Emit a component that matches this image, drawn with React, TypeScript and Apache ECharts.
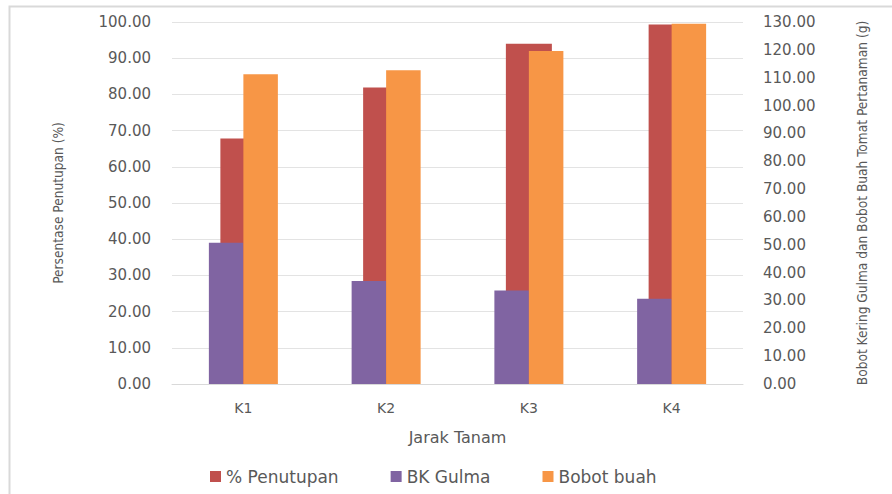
import React, { useEffect, useRef } from "react";
import * as echarts from "echarts";

const categories = ["K1", "K2", "K3", "K4"];
const penutupan = [67.8, 81.9, 94.0, 99.3];
const bkGulma = [50.7, 37.0, 33.6, 30.6];
const bobotBuah = [111.2, 112.7, 119.6, 129.4];
const leftTicks = { min: 0, max: 100, interval: 10 };
const rightTicks = { min: 0, max: 130, interval: 10 };

const tickFont = "DejaVu Sans";
const titleFont = "'DejaVu Sans Condensed', 'Liberation Sans Narrow', 'Open Sans'";

export default function App() {
  const ref = useRef<HTMLDivElement>(null);
  useEffect(() => {
    if (!ref.current) return;
    const chart = echarts.init(ref.current, null, { renderer: "svg" });
    chart.setOption({
      animation: false,
      backgroundColor: "#ffffff",
      graphic: [
        {
          type: "rect",
          shape: { x: 9.5, y: 6.5, width: 1000, height: 1000 },
          style: { fill: "none", stroke: "#d9d9d9", lineWidth: 2 },
          silent: true,
        },
      ],
      grid: { left: 172, right: 149, top: 22, bottom: 110 },
      legend: {
        bottom: 4,
        left: 205,
        itemWidth: 11,
        itemHeight: 11,
        itemGap: 52,
        icon: "rect",
        textStyle: { fontFamily: tickFont, fontSize: 17, color: "#595959" },
        data: ["% Penutupan", "BK Gulma", "Bobot buah"],
      },
      xAxis: [
        {
          type: "category",
          data: categories,
          name: "Jarak Tanam",
          nameLocation: "middle",
          nameGap: 45,
          nameTextStyle: { fontFamily: tickFont, fontSize: 16, color: "#595959" },
          axisLine: { show: true, lineStyle: { color: "#d9d9d9" } },
          axisTick: { show: false },
          axisLabel: { fontFamily: tickFont, fontSize: 14, color: "#595959", margin: 17 },
        },
        {
          type: "category",
          data: categories,
          show: false,
        },
      ],
      yAxis: [
        {
          type: "value",
          min: leftTicks.min,
          max: leftTicks.max,
          interval: leftTicks.interval,
          name: "Persentase Penutupan (%)",
          nameLocation: "middle",
          nameGap: 107,
          nameTextStyle: { fontFamily: titleFont, fontSize: 13.6, color: "#595959" },
          axisLine: { show: false },
          axisTick: { show: false },
          splitLine: { lineStyle: { color: "#e3e3e3", width: 1 } },
          axisLabel: {
            fontFamily: tickFont,
            fontSize: 15,
            color: "#595959",
            margin: 21,
            formatter: (v: number) => v.toFixed(2),
          },
        },
        {
          type: "value",
          min: rightTicks.min,
          max: rightTicks.max,
          interval: rightTicks.interval,
          name: "Bobot Kering Gulma dan Bobot Buah Tomat Pertanaman (g)",
          nameLocation: "middle",
          nameGap: 112,
          nameTextStyle: { fontFamily: titleFont, fontSize: 13.6, color: "#595959" },
          axisLine: { show: false },
          axisTick: { show: false },
          splitLine: { show: false },
          axisLabel: {
            fontFamily: tickFont,
            fontSize: 15,
            color: "#595959",
            margin: 20,
            formatter: (v: number) => v.toFixed(2),
          },
        },
      ],
      series: [
        {
          name: "% Penutupan",
          type: "bar",
          xAxisIndex: 0,
          yAxisIndex: 0,
          data: penutupan,
          barWidth: 46,
          itemStyle: { color: "#C0504D" },
          z: 2,
        },
        {
          name: "BK Gulma",
          type: "bar",
          xAxisIndex: 1,
          yAxisIndex: 1,
          data: bkGulma,
          barWidth: 34.5,
          barGap: "0%",
          itemStyle: { color: "#8064A2" },
          z: 3,
        },
        {
          name: "Bobot buah",
          type: "bar",
          xAxisIndex: 1,
          yAxisIndex: 1,
          data: bobotBuah,
          barWidth: 34.5,
          barGap: "0%",
          itemStyle: { color: "#F79646" },
          z: 3,
        },
      ],
    });
    return () => chart.dispose();
  }, []);
  return (
    <div
      ref={ref}
      style={{ position: "fixed", left: 0, top: 0, width: 892, height: 494 }}
    />
  );
}
